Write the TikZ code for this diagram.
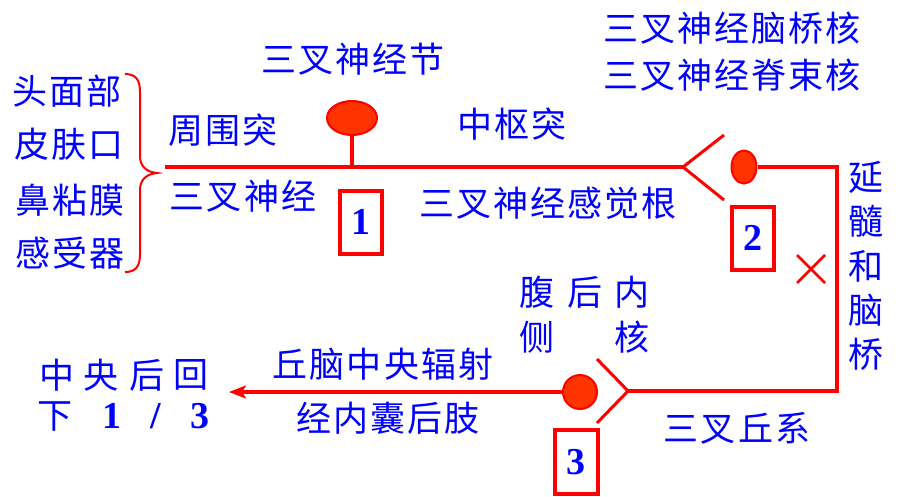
\documentclass[tikz,border=0pt]{standalone}
\usepackage{fontspec}
\setmainfont{Liberation Serif}
\newfontfamily\cjk[LetterSpace=6]{Noto Sans CJK SC}
\newfontfamily\cjkp{Noto Sans CJK SC}
\usetikzlibrary{arrows.meta,shapes.geometric}
\definecolor{nred}{RGB}{255,0,0}
\definecolor{cellfill}{RGB}{255,51,0}
\definecolor{tblue}{RGB}{0,0,255}
\tikzset{
  txt/.style={text=tblue, inner sep=0pt, font=\cjk\fontsize{35}{38}\selectfont},
  ch/.style={text=tblue, inner sep=0pt, font=\cjkp\fontsize{35}{38}\selectfont},
  num/.style={text=tblue, inner sep=0pt, font=\bfseries\fontsize{38}{40}\selectfont},
  fibre/.style={draw=nred, line width=4pt},
  cell/.style={draw=nred, line width=2pt, fill=cellfill, inner sep=0pt},
  numbox/.style={draw=nred, line width=4pt, inner sep=0pt, text=tblue,
     font=\bfseries\fontsize{38}{40}\selectfont},
}
\begin{document}
\begin{tikzpicture}[x=1pt,y=-1pt]
\useasboundingbox (0,0) rectangle (905,496);
% left labels
\node[txt] (t1) at (67,91) {头面部};
\node[txt] (t2) at (69,144) {皮肤口};
\node[txt] (t3) at (70,200) {鼻粘膜};
\node[txt] (t4) at (70,253) {感受器};
% brace
\draw[nred, line width=2pt] (125,74) .. controls (136,74) and (140,80) .. (140,92)
  -- (140,156) .. controls (140,166) and (146,172) .. (157,173)
  .. controls (146,174) and (140,180) .. (140,190)
  -- (140,254) .. controls (140,266) and (136,272) .. (125,272);
% labels along top fibre
\node[txt] (zwt) at (223,130) {周围突};
\node[txt] (scsj) at (243,196) {三叉神经};
\node[txt] (jie) at (353,59) {三叉神经节};
\node[txt] (zst) at (512,124) {中枢突};
\node[txt] (ggg) at (548,203) {三叉神经感觉根};
\node[txt] (nqh) at (732,28) {三叉神经脑桥核};
\node[txt] (jsh) at (732,75) {三叉神经脊束核};
% vertical label
\node[ch, align=center, font=\cjkp\fontsize{35}{44.2}\selectfont] (ysnq) at (866,266) {延\\髓\\和\\脑\\桥};
% ganglion and top fibre
\coordinate (start) at (165,167);
\coordinate (stem) at (352,167);
\coordinate (fork2) at (683,167);
\coordinate (arm2a) at (724,135);
\coordinate (arm2b) at (724,200);
\node[cell, ellipse, minimum width=50pt, minimum height=34pt] (gang) at (352,118) {};
\draw[fibre] (start) -- (fork2);
\draw[fibre] (gang.south) -- (stem);
\draw[nred, line width=3pt] (arm2a) -- (fork2) -- (arm2b);
% second neuron
\node[cell, ellipse, minimum width=25pt, minimum height=33pt] (syn2) at (744,167) {};
\coordinate (c1) at (837,167);
\coordinate (c2) at (837,391);
\coordinate (fork3) at (628,391);
\coordinate (arm3a) at (597,359);
\coordinate (arm3b) at (597,423);
\draw[fibre, line join=miter] (syn2.east) -- (c1) -- (c2) -- (fork3);
\draw[nred, line width=3pt] (arm3a) -- (fork3) -- (arm3b);
% crossing mark
\coordinate (xa) at (797,255);
\coordinate (xb) at (825,283);
\coordinate (xc) at (825,255);
\coordinate (xd) at (797,283);
\draw[nred, line width=2.5pt] (xa) -- (xb) (xc) -- (xd);
% third neuron
\node[cell, circle, minimum size=34pt] (syn3) at (580,392) {};
\coordinate (tip) at (229,392);
\draw[fibre, -{Stealth[length=17pt,width=13pt,inset=4pt]}] (syn3.west) -- (tip);
% numbered boxes
\node[numbox, minimum width=42pt, minimum height=63pt] (b1) at (361,222) {1};
\node[numbox, minimum width=42pt, minimum height=63pt] (b2) at (753,238) {2};
\node[numbox, minimum width=43pt, minimum height=64pt] (b3) at (576,462) {3};
% thalamus labels
\node[ch] (fu) at (537,292) {腹};
\node[ch] (hou) at (585,292) {后};
\node[ch] (nei) at (632,292) {内};
\node[ch] (ce) at (537,337) {侧};
\node[ch] (he) at (632,337) {核};
\node[txt] (qnzy) at (383,364) {丘脑中央辐射};
\node[txt] (jnn) at (388,418) {经内囊后肢};
\node[txt] (scqx) at (737,428) {三叉丘系};
% cortex labels
\node[ch] (k1) at (57,375) {中};
\node[ch] (k2) at (101,375) {央};
\node[ch] (k3) at (147,375) {后};
\node[ch] (k4) at (191,375) {回};
\node[ch] (k5) at (55,416) {下};
\node[num] (k6) at (112,416) {1};
\node[num] (k7) at (156,416) {/};
\node[num] (k8) at (200,416) {3};
\end{tikzpicture}
\end{document}
